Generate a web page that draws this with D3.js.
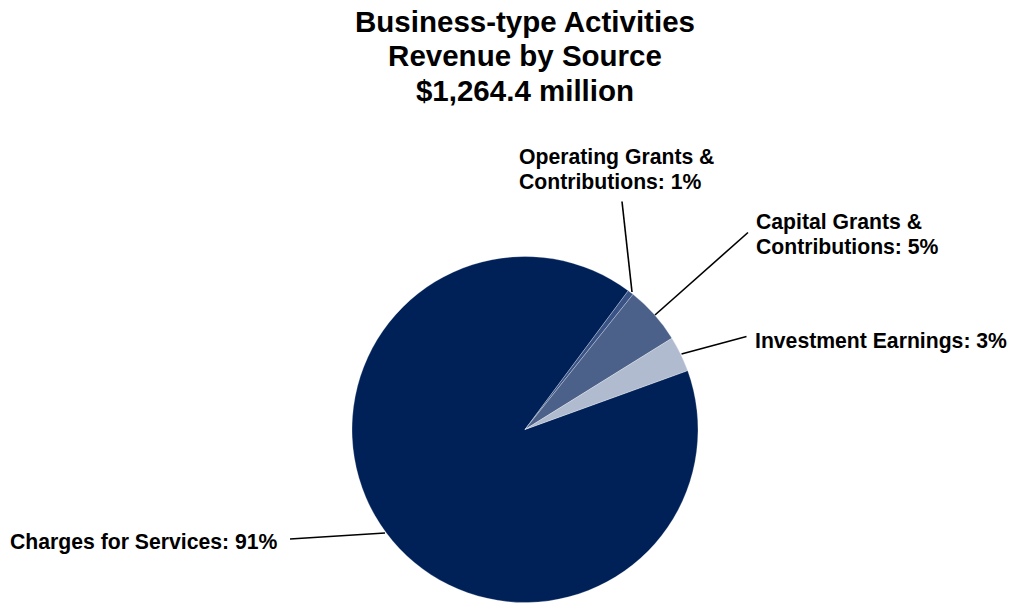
<!DOCTYPE html>
<html>
<head>
<meta charset="utf-8">
<script src="https://cdn.jsdelivr.net/npm/d3@7"></script>
<style>
  html, body { margin: 0; padding: 0; background: #fff; }
  svg { display: block; font-family: "Liberation Sans", Arial, sans-serif; }
</style>
</head>
<body>
<svg id="chart" width="1013" height="605"></svg>
<script>
// Revenue sources, $ millions
const categories = ["Charges for Services", "Operating Grants & Contributions", "Capital Grants & Contributions", "Investment Earnings"];
const values = [1146.9, 7.0, 68.5, 42.0];
const colors = ["#002058", "#3a5386", "#4c6189", "#b1bbcf"];
const titleLines = ["Business-type Activities", "Revenue by Source", "$1,264.4 million"];

// label text lines (": pct%" is appended to the last line)
const labelLines = [
  ["Charges for Services"],
  ["Operating Grants &", "Contributions"],
  ["Capital Grants &", "Contributions"],
  ["Investment Earnings"]
];

const svg = d3.select("#chart");
const cx = 525, cy = 429.5, R = 173;

// Title
svg.append("g").selectAll("text").data(titleLines).join("text")
  .attr("x", cx).attr("y", (d, i) => 31.5 + i * 34.5)
  .attr("text-anchor", "middle")
  .attr("font-size", 29.5).attr("font-weight", "bold").attr("fill", "#000")
  .text(d => d);

const total = d3.sum(values);
const data = categories.map((c, i) => ({ name: c, value: values[i], color: colors[i], lines: labelLines[i] }));

const startDeg = 70.1;
const pie = d3.pie().value(d => d.value).sort(null)
  .startAngle(startDeg * Math.PI / 180)
  .endAngle((startDeg + 360) * Math.PI / 180);
const arcs = pie(data);
const arc = d3.arc().innerRadius(0).outerRadius(R);

const g = svg.append("g").attr("transform", `translate(${cx},${cy})`);
g.selectAll("path").data(arcs).join("path")
  .attr("d", arc)
  .attr("fill", d => d.data.color)
  .attr("stroke", "rgba(255,255,255,0.45)")
  .attr("stroke-width", 0.6);

// Label placement: leader line from the slice edge out to the text
const labelPos = [
  { x: 10, y: 549, lineFrom: [-140, 103.5], lineTo: [-235, 109.5] },
  { x: 519, y: 164, lineFrom: [107, -137.5], lineTo: [97, -228] },
  { x: 756, y: 229, lineFrom: [130, -114.5], lineTo: [223, -197] },
  { x: 755, y: 348, lineFrom: [156.5, -75.5], lineTo: [221.5, -93] }
];

arcs.forEach((a, i) => {
  const p = labelPos[i];
  const pct = Math.round(a.data.value / total * 100);
  const lines = a.data.lines.slice();
  lines[lines.length - 1] = lines[lines.length - 1] + ": " + pct + "%";

  g.append("line")
    .attr("x1", p.lineFrom[0]).attr("y1", p.lineFrom[1])
    .attr("x2", p.lineTo[0]).attr("y2", p.lineTo[1])
    .attr("stroke", "#000").attr("stroke-width", 1.6);

  svg.append("text")
    .attr("x", p.x).attr("y", p.y)
    .attr("font-size", 21.2).attr("font-weight", "bold").attr("fill", "#000")
    .selectAll("tspan").data(lines).join("tspan")
    .attr("x", p.x).attr("dy", (d, j) => j === 0 ? 0 : 24.5)
    .text(d => d);
});
</script>
</body>
</html>
